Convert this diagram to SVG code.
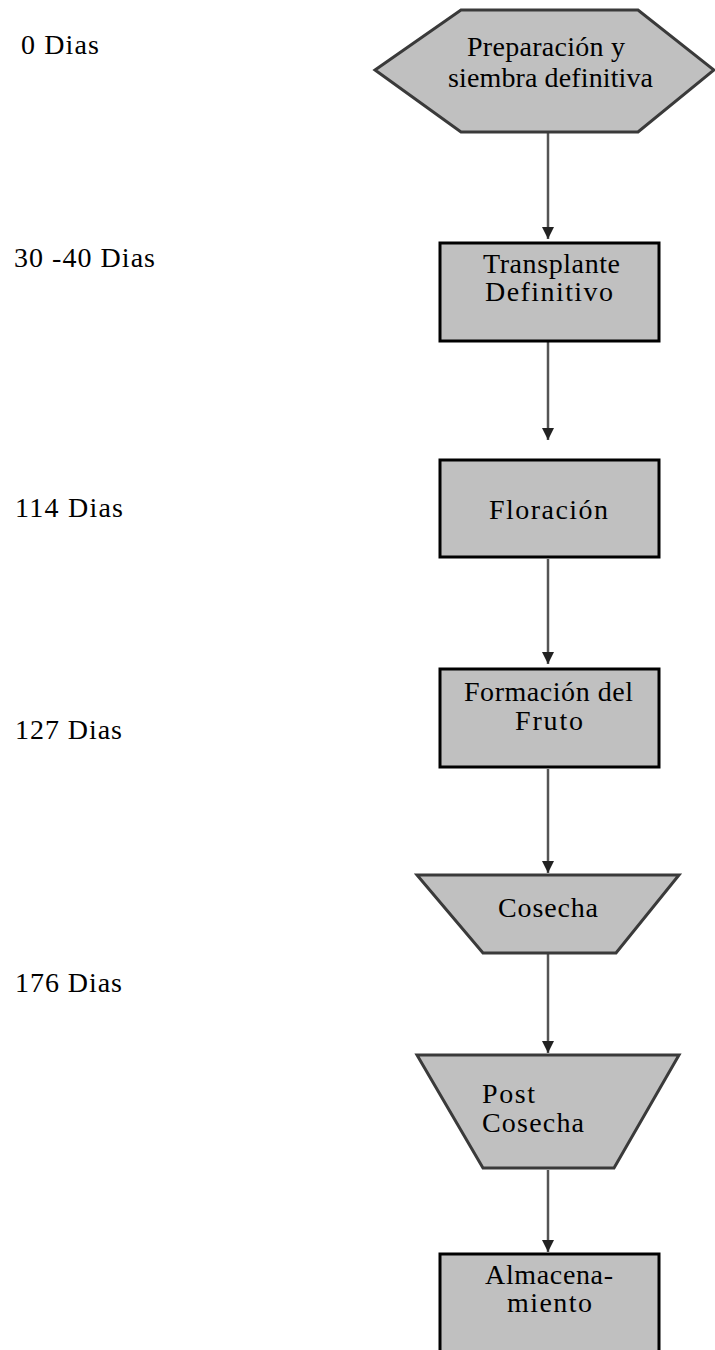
<svg xmlns="http://www.w3.org/2000/svg" width="715" height="1350" viewBox="0 0 715 1350">
<defs>
<style>
.t{font-family:"Liberation Serif","Times New Roman",serif;font-size:28px;fill:#000;}
.box{fill:#c0c0c0;stroke:#000;stroke-width:3;}
.shape{fill:#c0c0c0;stroke:#3a3a3a;stroke-width:3;stroke-linejoin:miter;}
.conn{stroke:#555;stroke-width:2.5;fill:none;}
</style>
<marker id="arr" markerUnits="userSpaceOnUse" markerWidth="12" markerHeight="12" refX="12" refY="6" orient="auto">
<path d="M0,0 L12,6 L0,12 z" fill="#222"/>
</marker>
</defs>
<rect width="715" height="1350" fill="#fff"/>
<g id="labels">
<text class="t" x="21" y="54" textLength="78">0 Dias</text>
<text class="t" x="14" y="267" textLength="141">30 -40 Dias</text>
<text class="t" x="15" y="517" textLength="108">114 Dias</text>
<text class="t" x="15" y="739" textLength="107">127 Dias</text>
<text class="t" x="15" y="992" textLength="107">176 Dias</text>
</g>
<g id="connectors">
<line class="conn" x1="548" y1="133" x2="548" y2="239" marker-end="url(#arr)"/>
<line class="conn" x1="548" y1="342" x2="548" y2="440" marker-end="url(#arr)"/>
<line class="conn" x1="548" y1="559" x2="548" y2="664" marker-end="url(#arr)"/>
<line class="conn" x1="548" y1="769" x2="548" y2="873" marker-end="url(#arr)"/>
<line class="conn" x1="548" y1="954" x2="548" y2="1053" marker-end="url(#arr)"/>
<line class="conn" x1="548" y1="1170" x2="548" y2="1252" marker-end="url(#arr)"/>
</g>
<g id="n1">
<polygon class="shape" points="375,70 461,10 638,10 714,70 638,132 461,132"/>
<text class="t" x="467" y="56" textLength="158">Preparación y</text>
<text class="t" x="448" y="87" textLength="205">siembra definitiva</text>
</g>
<g id="n2">
<rect class="box" x="440" y="243" width="219" height="98"/>
<text class="t" x="483" y="273" textLength="137">Transplante</text>
<text class="t" x="485" y="301" textLength="128">Definitivo</text>
</g>
<g id="n3">
<rect class="box" x="440" y="460" width="219" height="97"/>
<text class="t" x="489" y="519" textLength="119">Floración</text>
</g>
<g id="n4">
<rect class="box" x="440" y="669" width="219" height="98"/>
<text class="t" x="464" y="701" textLength="169">Formación del</text>
<text class="t" x="515" y="730" textLength="68">Fruto</text>
</g>
<g id="n5">
<polygon class="shape" points="417,875 679,875 616,953 483,953"/>
<text class="t" x="498" y="917" textLength="100">Cosecha</text>
</g>
<g id="n6">
<polygon class="shape" points="417,1055 679,1055 614,1168 483,1168"/>
<text class="t" x="482" y="1103" textLength="53">Post</text>
<text class="t" x="482" y="1132" textLength="102">Cosecha</text>
</g>
<g id="n7">
<rect class="box" x="440" y="1254" width="219" height="110"/>
<text class="t" x="485" y="1284" textLength="128">Almacena-</text>
<text class="t" x="507" y="1312" textLength="85">miento</text>
</g>
</svg>
